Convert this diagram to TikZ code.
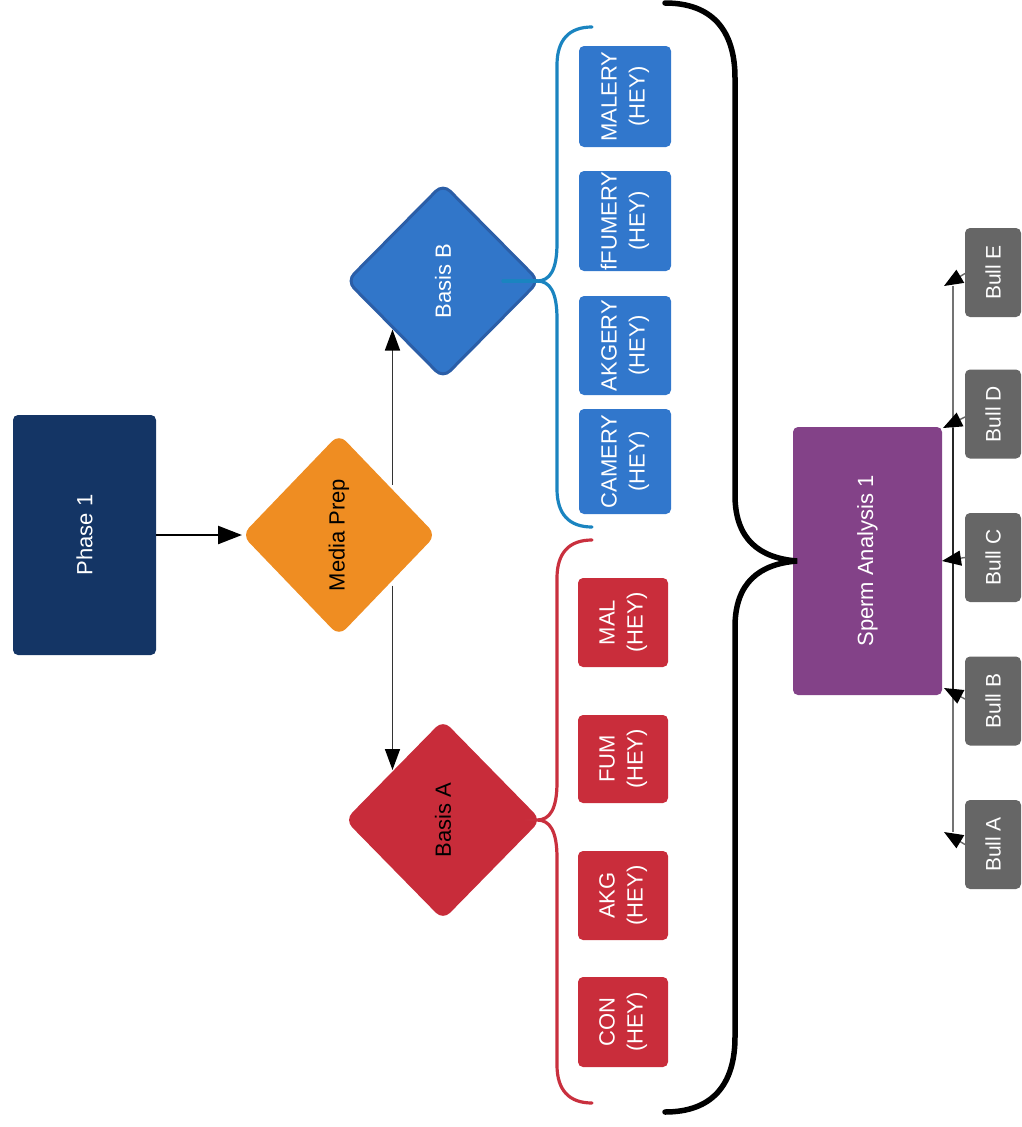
\documentclass[tikz,border=0pt]{standalone}
\usepackage{fontspec}
\setmainfont{Liberation Sans}
\usetikzlibrary{shapes.geometric,arrows.meta}
\definecolor{navy}{HTML}{143565}
\definecolor{orng}{HTML}{EF8D22}
\definecolor{bdia}{HTML}{3176C9}
\definecolor{bdiaedge}{HTML}{2B5EA7}
\definecolor{rdia}{HTML}{C82C3A}
\definecolor{bbox}{HTML}{3177CC}
\definecolor{rbox}{HTML}{C92D3B}
\definecolor{bbrace}{HTML}{1A84C0}
\definecolor{rbrace}{HTML}{C9303E}
\definecolor{purp}{HTML}{834288}
\definecolor{bullgray}{HTML}{666666}
\begin{document}
\begin{tikzpicture}[x=1pt,y=-1pt,
  lbl/.style={font=\fontsize{22}{28}\selectfont, text=white, inner sep=0pt, outer sep=0pt},
  box/.style={lbl, rectangle, rounded corners=5pt},
  dia/.style={lbl, diamond, rounded corners=10pt, aspect=1},
  bluebox/.style={box, fill=bbox, minimum width=92pt},
  redbox/.style={box, fill=rbox, minimum width=90pt},
  bullbox/.style={box, fill=bullgray, minimum width=56pt, minimum height=89pt, font=\fontsize{21}{25}\selectfont},
  conn/.style={draw=black!80, line width=1.6pt},
  bigarr/.style={conn, draw=black, line width=2.4pt, -{Triangle[length=24pt,width=18pt,color=black]}},
  midarr/.style={conn, -{Triangle[length=21pt,width=15pt,color=black]}},
  bullarr/.style={draw=black!60, line width=1.4pt, -{Triangle[length=19pt,width=15pt,color=black]}},
  bracelink/.style={line width=3.2pt, line cap=round},
]
\useasboundingbox (0,0) rectangle (1022,1127);

% main nodes
\node[box, fill=navy, minimum width=143pt, minimum height=240pt] (p1) at (84.5,535) {\rotatebox{90}{Phase 1}};
\node[dia, fill=orng, text=black, minimum width=194pt, minimum height=202pt] (mp) at (339,535) {\rotatebox{90}{Media Prep}};
\node[dia, fill=bdia, draw=bdiaedge, line width=3pt, minimum width=192pt, minimum height=194pt] (bB) at (443,281) {\rotatebox{90}{Basis B}};
\node[dia, fill=rdia, text=black, minimum width=196pt, minimum height=200pt] (bA) at (443,820) {\rotatebox{90}{Basis A}};

% blue boxes
\node[bluebox, minimum height=101pt] (malery) at (625,96.5) {\rotatebox{90}{\begin{tabular}{@{}c@{}}MALERY\\(HEY)\end{tabular}}};
\node[bluebox, minimum height=100pt] (fumery) at (625,221) {\rotatebox{90}{\begin{tabular}{@{}c@{}}fFUMERY\\(HEY)\end{tabular}}};
\node[bluebox, minimum height=99pt] (akgery) at (625,345.5) {\rotatebox{90}{\begin{tabular}{@{}c@{}}AKGERY\\(HEY)\end{tabular}}};
\node[bluebox, minimum height=105pt] (camery) at (625,461.5) {\rotatebox{90}{\begin{tabular}{@{}c@{}}CAMERY\\(HEY)\end{tabular}}};

% red boxes
\node[redbox, minimum height=89pt] (mal) at (623,622.5) {\rotatebox{90}{\begin{tabular}{@{}c@{}}MAL\\(HEY)\end{tabular}}};
\node[redbox, minimum height=88pt] (fum) at (623,759) {\rotatebox{90}{\begin{tabular}{@{}c@{}}FUM\\(HEY)\end{tabular}}};
\node[redbox, minimum height=89pt] (akg) at (623,895.5) {\rotatebox{90}{\begin{tabular}{@{}c@{}}AKG\\(HEY)\end{tabular}}};
\node[redbox, minimum height=90pt] (con) at (623,1022) {\rotatebox{90}{\begin{tabular}{@{}c@{}}CON\\(HEY)\end{tabular}}};

% braces
\draw[bracelink, draw=bbrace] (503,281) -- (537,281);
\draw[bracelink, draw=bbrace] (592,27) .. controls (569,27) and (557,40) .. (557,65) -- (557,243)
  .. controls (557,270) and (550,281) .. (537,281)
  .. controls (550,281) and (557,292) .. (557,319) -- (557,489)
  .. controls (557,514) and (569,527) .. (592,527);
\draw[bracelink, draw=rbrace] (592,540) .. controls (569,540) and (557,553) .. (557,578) -- (557,782)
  .. controls (557,809) and (550,820) .. (537,820)
  .. controls (550,820) and (557,831) .. (557,858) -- (557,1065)
  .. controls (557,1090) and (569,1103) .. (592,1103);

% Sperm analysis and bulls
\node[box, fill=purp, minimum width=149pt, minimum height=268pt] (sa) at (867.5,561) {\rotatebox{90}{Sperm Analysis 1}};
\draw[line width=5.5pt, line cap=round] (665,3) .. controls (712,3) and (735,30) .. (735,78) -- (735,495)
  .. controls (735,540) and (760,558) .. ([xshift=4pt]sa.west)
  .. controls (760,564) and (735,582) .. (735,627) -- (735,1037)
  .. controls (735,1085) and (712,1112) .. (665,1112);

\node[bullbox] (bE) at (993,272.5) {\rotatebox{90}{Bull E}};
\node[bullbox] (bD) at (993,414) {\rotatebox{90}{Bull D}};
\node[bullbox] (bC) at (993,557.5) {\rotatebox{90}{Bull C}};
\node[bullbox] (bB2) at (993,701) {\rotatebox{90}{Bull B}};
\node[bullbox] (bA2) at (993,844.5) {\rotatebox{90}{Bull A}};

\coordinate (lt) at (953,286);
\coordinate (lb) at (953,832);
\coordinate (lmt) at (953,428);
\coordinate (lmb) at (953,689);
\draw[draw=black!55, line width=1.6pt] (lt) -- (lb);
\draw[draw=black!85, line width=1.6pt] (lmt) -- (lmb);

\coordinate (tE) at (944,286);
\coordinate (tD) at (943,428);
\coordinate (tB) at (944,688);
\coordinate (tA) at (944,832);
\draw[bullarr] ([yshift=-1pt]bE.west) -- (tE);
\draw[bullarr] ([yshift=-3pt]bD.west) -- (tD);
\draw[bullarr] (bC.west) -- (sa.east);
\draw[bullarr] ([yshift=2pt]bB2.west) -- (tB);
\draw[bullarr] ([yshift=0pt]bA2.west) -- (tA);

% arrows
\draw[bigarr] (p1.east) -- (mp.west);
\draw[midarr] ([xshift=5pt]mp.north east) -- ([xshift=5pt]mp.north east |- bB.south west);
\draw[midarr] ([xshift=5pt]mp.south east) -- ([xshift=5pt]mp.south east |- bA.north west);
\end{tikzpicture}
\end{document}
